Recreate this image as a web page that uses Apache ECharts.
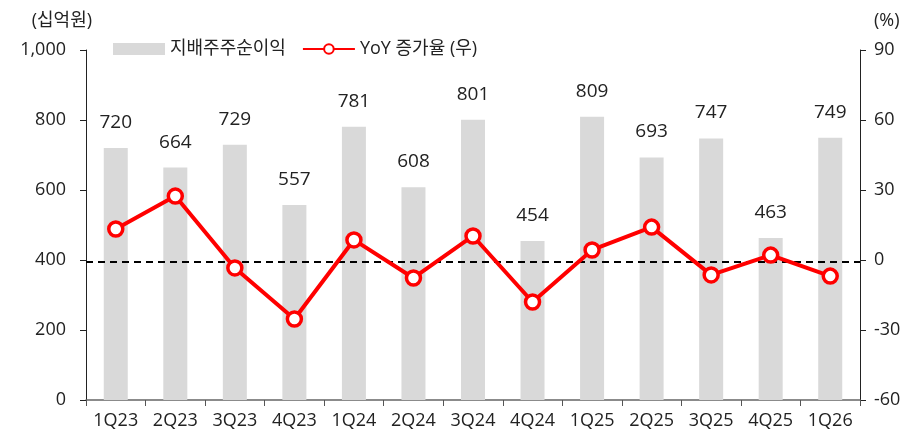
<!DOCTYPE html>
<html>
<head>
<meta charset="utf-8">
<script src="https://cdn.jsdelivr.net/npm/echarts@6/dist/echarts.min.js"></script>
<style>
  html, body { margin: 0; padding: 0; background: #fff; }
  #chart { width: 920px; height: 437px; }
</style>
</head>
<body>
<div id="chart"></div>
<script>
var quarters = ['1Q23', '2Q23', '3Q23', '4Q23', '1Q24', '2Q24', '3Q24', '4Q24', '1Q25', '2Q25', '3Q25', '4Q25', '1Q26'];
// 지배주주순이익 (십억원)
var netIncome = [720, 664, 729, 557, 781, 608, 801, 454, 809, 693, 747, 463, 749];
// YoY 증가율 (%)
var yoyGrowth = [13.3, 27.4, -3.4, -25.3, 8.6, -7.7, 10.3, -18.0, 4.3, 14.1, -6.4, 2.1, -6.9];

var font = '"Open Sans", "Noto Sans CJK KR", sans-serif';
var myChart = echarts.init(document.getElementById('chart'));

var option = {
  animation: false,
  textStyle: { fontFamily: font, color: '#222' },
  grid: { left: 86, right: 60, top: 50, bottom: 37 },
  legend: {
    left: 108,
    top: 35,
    itemGap: 16,
    itemWidth: 52,
    itemHeight: 12,
    textStyle: { fontSize: 18, color: '#222', fontFamily: font },
    data: [
      { name: '지배주주순이익', icon: 'rect' },
      { name: 'YoY 증가율 (우)' }
    ]
  },
  xAxis: {
    type: 'category',
    data: quarters,
    axisLine: { lineStyle: { color: '#666', width: 1.5 } },
    axisTick: { show: true, length: 6, lineStyle: { color: '#555' } },
    axisLabel: { fontSize: 18, color: '#222', margin: 12 }
  },
  yAxis: [
    {
      type: 'value',
      name: '(십억원)',
      nameLocation: 'end',
      nameGap: 20,
      nameTextStyle: { fontSize: 18, color: '#222', align: 'right', padding: [0, -6, 0, 0] },
      min: 0, max: 1000, interval: 200,
      axisLine: { show: true, lineStyle: { color: '#222' } },
      axisTick: { show: true, length: 6, lineStyle: { color: '#222' } },
      axisLabel: {
        fontSize: 18, color: '#222', margin: 20,
        formatter: function (v) { return v.toLocaleString('en-US'); }
      },
      splitLine: { show: false }
    },
    {
      type: 'value',
      name: '(%)',
      nameLocation: 'end',
      nameGap: 20,
      nameTextStyle: { fontSize: 18, color: '#222', align: 'left', padding: [0, 0, 0, 14] },
      min: -60, max: 90, interval: 30,
      axisLine: { show: true, lineStyle: { color: '#222' } },
      axisTick: { show: true, length: 6, lineStyle: { color: '#222' } },
      axisLabel: { fontSize: 18, color: '#222', margin: 14 },
      splitLine: { show: false }
    }
  ],
  series: [
    {
      name: '지배주주순이익',
      type: 'bar',
      data: netIncome,
      barWidth: 24,
      itemStyle: { color: '#d9d9d9' },
      label: {
        show: true,
        position: 'top',
        distance: 16,
        fontSize: 19,
        color: '#222',
        fontFamily: font
      }
    },
    {
      name: 'YoY 증가율 (우)',
      type: 'line',
      yAxisIndex: 1,
      data: yoyGrowth,
      symbol: 'circle',
      symbolSize: 14,
      lineStyle: { color: '#ff0000', width: 4 },
      itemStyle: { color: '#ffffff', borderColor: '#ff0000', borderWidth: 3.5 },
      z: 5,
      markLine: {
        silent: true,
        symbol: 'none',
        label: { show: false },
        lineStyle: { color: '#000', type: [7, 5], width: 2 },
        data: [{ yAxis: -0.8 }]
      }
    }
  ]
};

myChart.setOption(option);
</script>
</body>
</html>
